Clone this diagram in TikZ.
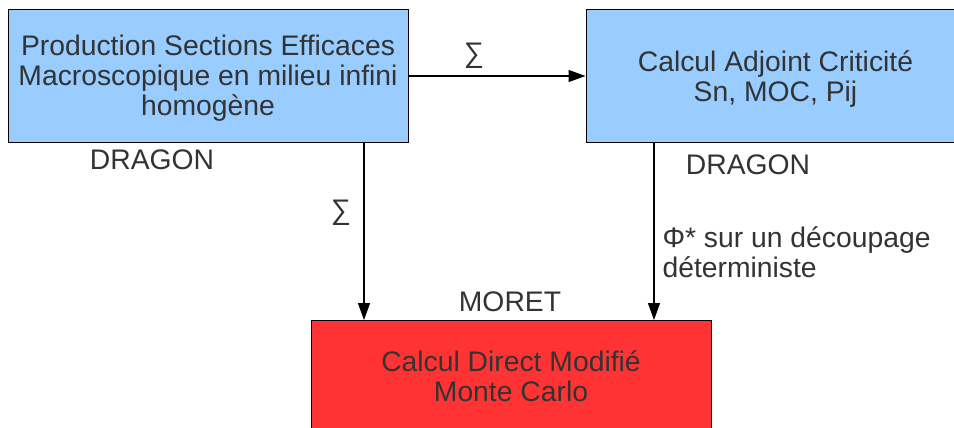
\documentclass[tikz,border=0pt]{standalone}
\usepackage{fontspec}
\setmainfont{Liberation Sans}
\usetikzlibrary{arrows.meta}
\definecolor{boxblue}{HTML}{99CCFF}
\definecolor{boxred}{HTML}{FF3333}
\definecolor{txt}{HTML}{333333}
\begin{document}
\begin{tikzpicture}[x=1pt,y=-1pt,
  every node/.style={text=txt,font=\fontsize{28.3}{30}\selectfont},
  box/.style={draw=black,line width=1pt,inner sep=0pt},
  conn/.style={draw=black,line width=1.2pt,-{Triangle[length=17pt,width=12pt]}}]
\useasboundingbox (0,0) rectangle (954,428);
\begin{scope}
\clip (0,0) rectangle (954,428);
\node[box,fill=boxblue,minimum width=400pt,minimum height=132pt] (prod) at (208,76) {};
\node[box,fill=boxblue,minimum width=379pt,minimum height=132pt] (adj) at (775.5,76) {};
\node[box,fill=boxred,minimum width=400pt,minimum height=140pt] (mc) at (511,390) {};
\end{scope}
\node[align=center] (prodtext) at (prod.center) [yshift=-2pt] {Production Sections Efficaces\\Macroscopique en milieu infini\\homogène};
\node[align=center] (adjtext) at (adj.center) [yshift=-3pt] {Calcul Adjoint Criticité\\Sn, MOC, Pij};
\node[align=center] (mctext) at (511,376) {Calcul Direct Modifié\\Monte Carlo};
\coordinate (a1) at (364,142);
\coordinate (a2) at (364,320);
\coordinate (b1) at (654,142);
\coordinate (b2) at (654,320);
\draw[conn] (prod.east |- 0,76) -- (adj.west |- 0,76);
\draw[conn] (a1) -- (a2);
\draw[conn] (b1) -- (b2);
\node (s1) at (474,56) {∑};
\node (s2) at (341,213) {∑};
\node (d1) at (152,160) {DRAGON};
\node (d2) at (748,165) {DRAGON};
\node (mo) at (510,302) {MORET};
\node[anchor=west,align=left] (phi) at (659,252) {Φ* sur un découpage\\déterministe};
\end{tikzpicture}
\end{document}
